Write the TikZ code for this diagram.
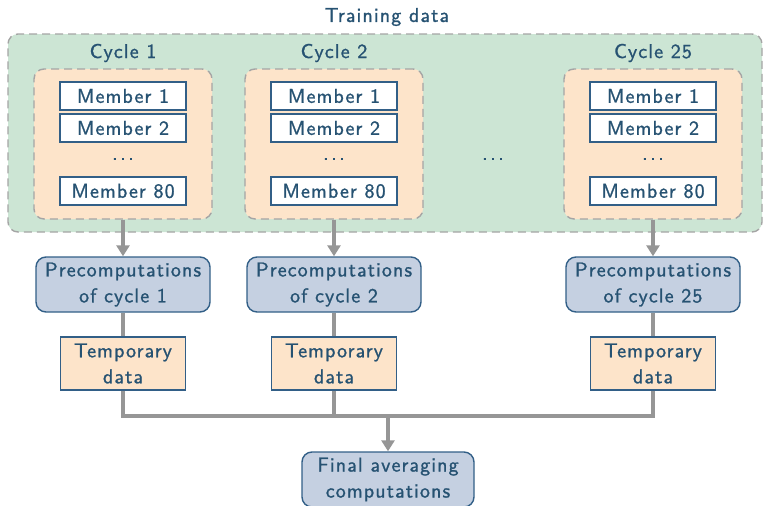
\documentclass[tikz,border=0pt]{standalone}
\usepackage{fontspec}
\usetikzlibrary{arrows.meta}
\definecolor{tblue}{RGB}{38,82,114}
\definecolor{bordblue}{RGB}{50,95,135}
\definecolor{grpgreen}{RGB}{204,229,212}
\definecolor{cycorange}{RGB}{253,228,202}
\definecolor{precblue}{RGB}{197,208,225}
\definecolor{lgray}{RGB}{150,150,150}
\definecolor{dgray}{RGB}{165,165,165}
\newfontfamily\diafam{lmsans10-regular.otf}[LetterSpace=5.5,FakeBold=1.2]
\newcommand{\diafnt}{\diafam\fontsize{20}{26}\selectfont}
\newcommand{\mydots}{.\kern2.5pt.\kern2.5pt.}
\tikzset{
  txt/.style={font=\diafnt, text=tblue, align=center, inner sep=0pt},
  grpbox/.style={draw=dgray, line width=1.4pt, dash pattern=on 8pt off 5pt, rounded corners=10pt},
  memberbox/.style={txt, draw=bordblue, fill=white, line width=1.4pt, minimum width=126pt, minimum height=28pt},
  precbox/.style={txt, draw=bordblue, fill=precblue, line width=1.4pt, rounded corners=10pt, minimum width=174pt, minimum height=55pt},
  tempbox/.style={txt, draw=bordblue, fill=cycorange, line width=1.4pt, minimum width=125pt, minimum height=53pt},
  conn/.style={draw=lgray, line width=4pt},
  arr/.style={conn, -{Triangle[width=13pt,length=11pt]}},
}
\begin{document}
\begin{tikzpicture}[x=1pt,y=-1pt]
\useasboundingbox (0,0) rectangle (764,506);
\node[txt] (title) at (387,17) {Training data};
\node[grpbox, fill=grpgreen, minimum width=754pt, minimum height=198pt] (outer) at (385,133) {};
\foreach \cx/\lab/\nm in {123/1/a,334/2/b,653/25/c}{
  \node[txt] (cyc\nm) at (\cx,53) {Cycle \lab};
  \node[grpbox, fill=cycorange, minimum width=178pt, minimum height=150pt] (box\nm) at (\cx,144) {};
  \node[memberbox] (m1\nm) at (\cx,96) {Member 1};
  \node[memberbox] (m2\nm) at (\cx,128) {Member 2};
  \node[txt] (md\nm) at (\cx,159) {\mydots};
  \node[memberbox] (m80\nm) at (\cx,191) {Member 80};
  \node[precbox] (p\nm) at (\cx,284.5) {Precomputations\\of cycle \lab};
  \node[tempbox] (t\nm) at (\cx,363.5) {Temporary\\data};
  \draw[arr] (box\nm.south) -- (p\nm.north);
  \draw[conn] (p\nm.south) -- (t\nm.north);
}
\node[txt] (middots) at (493,159) {\mydots};
\node[precbox, minimum width=172pt] (final) at (388,479.5) {Final averaging\\computations};
\coordinate (j) at (388,416);
\draw[conn] (ta.south) |- (j);
\draw[conn] (tc.south) |- (j);
\draw[conn] (tb.south) -- (tb.south |- j);
\draw[arr] (j) -- (final.north);
\end{tikzpicture}
\end{document}
